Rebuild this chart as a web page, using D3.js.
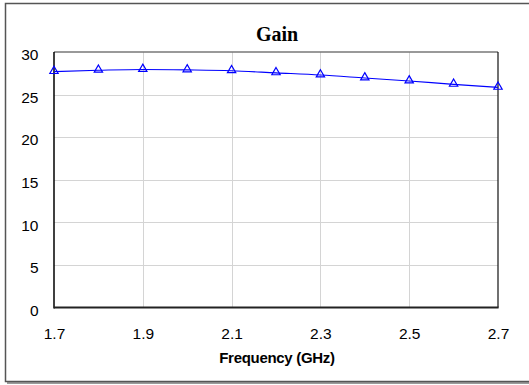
<!DOCTYPE html>
<html>
<head>
<meta charset="utf-8">
<script src="https://cdn.jsdelivr.net/npm/d3@7"></script>
<style>
  html, body { margin: 0; padding: 0; background: #fff; }
  svg { display: block; }
</style>
</head>
<body>
<svg id="chart" width="529" height="385"></svg>
<script>
// Amplifier gain versus frequency
const frequencies = [1.7, 1.8, 1.9, 2.0, 2.1, 2.2, 2.3, 2.4, 2.5, 2.6, 2.7];
const gainDb = [27.7, 27.85, 27.95, 27.9, 27.8, 27.55, 27.3, 26.95, 26.6, 26.2, 25.85];
const xTicks = [1.7, 1.9, 2.1, 2.3, 2.5, 2.7];
const yTicks = [0, 5, 10, 15, 20, 25, 30];

const svg = d3.select("#chart");
const plot = { left: 54, right: 498, top: 52, bottom: 307.5 };

const x = d3.scaleLinear().domain([1.7, 2.7]).range([plot.left, plot.right]);
const y = d3.scaleLinear().domain([0, 30]).range([plot.bottom, plot.top]);

// outer frame with a soft drop shadow on the bottom edge
svg.append("line").attr("x1", 7).attr("x2", 529).attr("y1", 383).attr("y2", 383)
  .attr("stroke", "#9a9a9a").attr("stroke-width", 2);
svg.append("rect").attr("x", 5.5).attr("y", 3.5).attr("width", 530).attr("height", 378)
  .attr("fill", "#fff").attr("stroke", "#555").attr("stroke-width", 1.5);

// gridlines
const grid = svg.append("g").attr("stroke", "#d4d4d4").attr("stroke-width", 1);
grid.selectAll(".gx").data(xTicks.slice(1, -1)).join("line")
  .attr("x1", d => Math.round(x(d)) + 0.5).attr("x2", d => Math.round(x(d)) + 0.5)
  .attr("y1", plot.top).attr("y2", plot.bottom);
grid.selectAll(".gy").data(yTicks.slice(1, -1)).join("line")
  .attr("x1", plot.left).attr("x2", plot.right)
  .attr("y1", d => Math.round(y(d)) + 0.5).attr("y2", d => Math.round(y(d)) + 0.5);

// plot border: top grey, right black, left and bottom axes black
svg.append("line").attr("x1", plot.left).attr("x2", plot.right).attr("y1", plot.top).attr("y2", plot.top)
  .attr("stroke", "#777").attr("stroke-width", 1.5);
svg.append("line").attr("x1", plot.right).attr("x2", plot.right).attr("y1", plot.top).attr("y2", plot.bottom)
  .attr("stroke", "#111").attr("stroke-width", 1.2);
svg.append("line").attr("x1", plot.left).attr("x2", plot.left).attr("y1", plot.top).attr("y2", plot.bottom + 1)
  .attr("stroke", "#000").attr("stroke-width", 1.5);
svg.append("line").attr("x1", plot.left).attr("x2", plot.right + 0.6).attr("y1", plot.bottom).attr("y2", plot.bottom)
  .attr("stroke", "#222").attr("stroke-width", 1.8);

// axis tick labels via d3 axes (lines hidden)
const xAxis = svg.append("g").attr("transform", `translate(0,${plot.bottom})`)
  .call(d3.axisBottom(x).tickValues(xTicks).tickSize(0).tickPadding(20).tickFormat(d3.format(".1f")));
const yAxis = svg.append("g").attr("transform", `translate(${plot.left},0)`)
  .call(d3.axisLeft(y).tickValues(yTicks).tickSize(0).tickPadding(15.5).tickFormat(d3.format("d")));
[xAxis, yAxis].forEach(a => {
  a.select(".domain").remove();
  a.selectAll("text").attr("font-family", "'Liberation Sans', Arial, sans-serif")
    .attr("font-size", 15.5).attr("fill", "#000");
});
yAxis.selectAll("text").attr("dy", "0.5em");

// gain curve
const pts = frequencies.map((f, i) => [f, gainDb[i]]);
svg.append("path").datum(pts)
  .attr("fill", "none").attr("stroke", "#0000ff").attr("stroke-width", 1.1)
  .attr("d", d3.line().x(d => x(d[0])).y(d => y(d[1])).curve(d3.curveMonotoneX));

// triangle markers
svg.append("g").selectAll("path").data(pts).join("path")
  .attr("transform", d => `translate(${x(d[0])},${y(d[1]) - 0.5})`)
  .attr("d", d3.symbol(d3.symbolTriangle, 30))
  .attr("fill", "none").attr("stroke", "#0000ff").attr("stroke-width", 1.2);

// titles
svg.append("text").attr("x", 277).attr("y", 41).attr("text-anchor", "middle")
  .attr("font-family", "'Liberation Serif', 'Times New Roman', serif")
  .attr("font-weight", "bold").attr("font-size", 20).text("Gain");
svg.append("text").attr("x", 277).attr("y", 363).attr("text-anchor", "middle")
  .attr("font-family", "'Liberation Sans', Arial, sans-serif")
  .attr("font-weight", "bold").attr("font-size", 15).attr("letter-spacing", -0.3)
  .text("Frequency (GHz)");
</script>
</body>
</html>
